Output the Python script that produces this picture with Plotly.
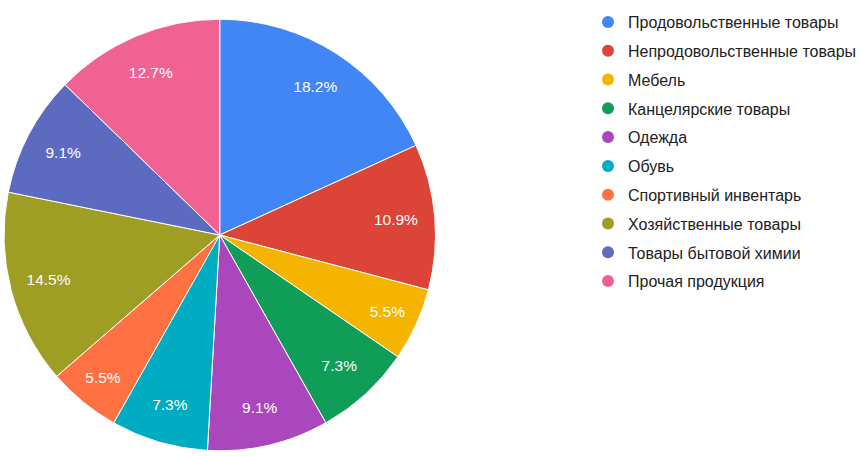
import plotly.graph_objects as go

categories = ["Продовольственные товары", "Непродовольственные товары", "Мебель",
              "Канцелярские товары", "Одежда", "Обувь", "Спортивный инвентарь",
              "Хозяйственные товары", "Товары бытовой химии", "Прочая продукция"]
values = [10, 6, 3, 4, 5, 4, 3, 8, 5, 7]
colors = ["#4285F4", "#DB4437", "#F4B400", "#0F9D58", "#AB47BC",
          "#00ACC1", "#FF7043", "#9E9D24", "#5C6BC0", "#F06292"]

FONT = "Liberation Sans, Arial, sans-serif"
DOMAIN = dict(x=[4/862, 436/862], y=[5/456, 437/456])

fig = go.Figure()
# full pie (no text)
fig.add_trace(go.Pie(
    labels=categories, values=values, sort=False, direction="clockwise",
    rotation=0, marker=dict(colors=colors, line=dict(color="white", width=1)),
    textinfo="none", showlegend=False, hoverinfo="label+percent",
    domain=DOMAIN,
))
# transparent ring overlay carrying the percentage labels toward the outer edge
fig.add_trace(go.Pie(
    labels=categories, values=values, sort=False, direction="clockwise",
    rotation=0, hole=0.64,
    marker=dict(colors=["rgba(0,0,0,0)"] * len(values), line=dict(width=0)),
    texttemplate="%{percent:.1%}",
    textposition="inside", insidetextorientation="horizontal",
    textfont=dict(color="white", size=15.5, family=FONT),
    showlegend=False, hoverinfo="skip",
    domain=DOMAIN,
))
for i, (name, c) in enumerate(zip(categories, colors)):
    fig.add_trace(go.Scatter(
        x=[None], y=[None], mode="markers", name=name,
        marker=dict(symbol="circle", size=15, color=c),
        legendgroup=f"g{i}", showlegend=True,
    ))

fig.update_layout(
    width=862, height=456, margin=dict(l=0, r=0, t=0, b=0),
    paper_bgcolor="white", plot_bgcolor="white",
    font=dict(family=FONT, size=16, color="#222222"),
    xaxis=dict(visible=False), yaxis=dict(visible=False),
    legend=dict(x=589/862, y=1 - 5/456, xanchor="left", yanchor="top",
                tracegroupgap=5, itemsizing="constant",
                font=dict(size=16, color="#222222", family=FONT),
                traceorder="grouped", itemwidth=30),
)
fig.write_html("out.html")
